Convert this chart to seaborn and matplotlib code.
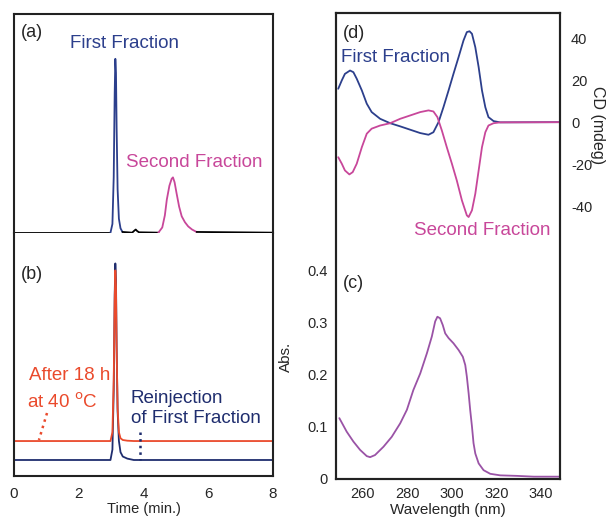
import matplotlib
matplotlib.use("Agg")
import matplotlib.pyplot as plt
import seaborn as sns

sns.set_style("white")
plt.rcParams["font.family"] = ["Liberation Sans", "DejaVu Sans"]
plt.rcParams["axes.unicode_minus"] = False

BLUE = "#2c3f8c"
NAVY = "#1f2d6e"
MAGENTA = "#c8479a"
RED = "#ea4a2c"
PURPLE = "#9a53a6"

# --- (a) HPLC trace (arb. units, first peak = 100)
a_base1_t = [0, 2.98]
a_base1_y = [0, 0]
a_first_t = [2.98, 3.04, 3.08, 3.11, 3.13, 3.15, 3.17, 3.2, 3.24, 3.29, 3.35]
a_first_y = [0, 5, 32, 80, 100, 92, 60, 25, 8, 2.5, 0.4]
a_base2_t = [3.35, 3.65, 3.72, 3.76, 3.80, 3.86, 4.46]
a_base2_y = [0.4, 0, 1.2, 1.8, 1.0, 0.2, 0]
a_second_t = [4.46, 4.58, 4.66, 4.72, 4.8, 4.87, 4.91, 4.96, 5.02, 5.1, 5.18, 5.28, 5.38, 5.5, 5.64]
a_second_y = [0, 3, 10, 19, 27, 31, 31.8, 29, 22.8, 15, 9.4, 6, 3.6, 1.8, 0.4]
a_base3_t = [5.64, 8]
a_base3_y = [0.4, 0]

# --- (b) reinjection / after heating
b_t = [0, 2.98, 3.04, 3.08, 3.11, 3.13, 3.15, 3.17, 3.2, 3.24, 3.29, 3.36, 3.5, 3.7, 8]
b_blue_y = [0, 0, 6, 40, 95, 113, 104, 65, 28, 11, 4.5, 2, 0.8, 0, 0]
b_red_y = [10.9, 10.9, 16, 46, 92, 109, 100, 64, 30, 16, 12.5, 11.5, 11.1, 10.9, 10.9]
red_marker_t = [1.02, 0.77]
red_marker_y = [27, 11.5]
blue_marker_t = [3.9, 3.9]
blue_marker_y = [16, 0]

# --- (c) UV absorption
wl_abs = [249.5, 252.8, 255.8, 258.8, 261.8, 263.3, 265.5, 269.3, 273.0, 276.8,
          279.8, 282.7, 285.8, 288.8, 291.0, 292.5, 293.5, 294.7, 295.9, 297.0,
          298.5, 300.7, 303.0, 304.9, 306.0, 306.7, 307.5, 308.2, 309.0, 309.7,
          310.5, 312.0, 314.2, 317.2, 321.7, 329.2, 336.7, 348.7]
absorb = [0.117, 0.091, 0.072, 0.056, 0.044, 0.042, 0.046, 0.062, 0.081, 0.107,
          0.133, 0.171, 0.203, 0.242, 0.274, 0.303, 0.312, 0.309, 0.296, 0.280,
          0.271, 0.261, 0.248, 0.235, 0.219, 0.197, 0.165, 0.133, 0.101, 0.069,
          0.049, 0.030, 0.017, 0.010, 0.007, 0.006, 0.0045, 0.0045]

# --- (d) CD spectra
wl_first = [249.0, 250.6, 252.0, 254.3, 255.8, 257.3, 259.6, 261.8, 264.0, 267.8,
            272.3, 276.8, 281.3, 285.8, 289.5, 291.7, 294.0, 296.2, 298.5, 300.7,
            303.0, 305.2, 306.7, 307.9, 309.0, 310.5, 312.0, 313.5, 315.0, 316.4,
            318.7, 321.7, 348.7]
cd_first = [15.9, 19.9, 23.0, 24.6, 23.8, 20.7, 15.1, 8.8, 4.8, 1.6,
            -0.5, -2.0, -3.6, -5.2, -6.0, -4.8, 0.0, 7.1, 15.1, 23.0,
            31.0, 38.9, 42.9, 43.3, 42.1, 35.7, 26.2, 15.1, 7.1, 2.4,
            0.5, -0.1, 0.0]
wl_second = [249.0, 250.6, 252.0, 254.0, 255.5, 257.3, 259.6, 261.8, 264.0, 267.8,
             272.3, 276.8, 281.3, 285.8, 289.5, 291.7, 293.5, 295.5, 297.7, 300.0,
             302.2, 304.5, 306.7, 307.5, 309.0, 310.5, 312.0, 313.5, 315.0, 316.4,
             318.7, 321.7, 348.7]
cd_second = [-16.7, -19.8, -23.0, -24.9, -23.8, -19.8, -11.9, -5.5, -3.1, -1.6,
             -0.5, 1.6, 3.2, 4.8, 5.6, 5.1, 2.4, -4.0, -11.9, -19.8,
             -27.8, -37.3, -44.4, -45.2, -42.0, -34.1, -23.0, -11.9, -4.8, -1.6,
             -0.5, -0.1, 0.0]

fig = plt.figure(figsize=(6.11, 5.2), dpi=100)
W, H = 611, 520


def box(x0, y0, x1, y1):
    return [x0 / W, 1 - y1 / H, (x1 - x0) / W, (y1 - y0) / H]


ax_a = fig.add_axes(box(14, 14, 273, 233))
ax_b = fig.add_axes(box(14, 233, 273, 476))
ax_c = fig.add_axes(box(336, 13, 560, 479))
ax_d = ax_c.twinx()

lw = 1.3
fs = 13.5
# (a)
sns.lineplot(x=a_base1_t, y=a_base1_y, ax=ax_a, color="black", lw=lw)
sns.lineplot(x=a_first_t, y=a_first_y, ax=ax_a, color=BLUE, lw=lw)
sns.lineplot(x=a_base2_t, y=a_base2_y, ax=ax_a, color="black", lw=lw)
sns.lineplot(x=a_second_t, y=a_second_y, ax=ax_a, color=MAGENTA, lw=lw)
sns.lineplot(x=a_base3_t, y=a_base3_y, ax=ax_a, color="black", lw=lw)
ax_a.set_xlim(0, 8)
ax_a.set_ylim(-0.2, 125.8)
ax_a.set_xticks([])
ax_a.set_yticks([])
ax_a.spines["bottom"].set_visible(False)
ax_a.text(0.025, 0.915, "(a)", transform=ax_a.transAxes, fontsize=13, va="center")
ax_a.text(3.41, 108.7, "First Fraction", color=BLUE, fontsize=fs, ha="center", va="center")
ax_a.text(5.56, 40.3, "Second Fraction", color=MAGENTA, fontsize=fs, ha="center", va="center")

# (b)
sns.lineplot(x=b_t, y=b_blue_y, ax=ax_b, color=NAVY, lw=lw)
sns.lineplot(x=b_t, y=b_red_y, ax=ax_b, color=RED, lw=lw)
ax_b.plot(red_marker_t, red_marker_y, color=RED, ls=":", lw=1.8)
ax_b.plot(blue_marker_t, blue_marker_y, color=NAVY, ls=":", lw=1.8)
ax_b.set_xlim(0, 8)
ax_b.set_ylim(-9.2, 130.5)
ax_b.set_yticks([])
ax_b.set_xticks([0, 2, 4, 6, 8])
ax_b.tick_params(axis="x", direction="in", length=6, width=1, labelsize=11, pad=8)
ax_b.spines["top"].set_visible(False)
ax_b.set_xlabel("Time (min.)", fontsize=10.5, labelpad=1)
ax_b.text(0.025, 0.83, "(b)", transform=ax_b.transAxes, fontsize=13, va="center")
ax_b.text(0.46, 48.3, "After 18 h", color=RED, fontsize=fs, ha="left", va="center")
ax_b.text(0.4, 33.3, "at 40 $^{\\rm o}$C", color=RED, fontsize=fs, ha="left", va="center")
ax_b.text(3.61, 35.6, "Reinjection", color=NAVY, fontsize=fs, ha="left", va="center")
ax_b.text(3.61, 23.6, "of First Fraction", color=NAVY, fontsize=fs, ha="left", va="center")

for ax in (ax_a, ax_b):
    for s in ax.spines.values():
        s.set_color("#222222")
        s.set_linewidth(1.5)

# (c)
sns.lineplot(x=wl_abs, y=absorb, ax=ax_c, color=PURPLE, lw=lw)
ax_c.set_xlim(248, 348.5)
ax_c.set_ylim(0, 0.896)
ax_c.set_yticks([0, 0.1, 0.2, 0.3, 0.4])
ax_c.set_yticklabels(["0", "0.1", "0.2", "0.3", "0.4"])
ax_c.set_xticks([260, 280, 300, 320, 340])
ax_c.tick_params(axis="both", length=0, labelsize=10.5, pad=6)
ax_c.set_xlabel("Wavelength (nm)", fontsize=11, labelpad=1)
ax_c.set_ylabel("Abs.", fontsize=11)
ax_c.yaxis.set_label_coords(-0.19, 0.262)
ax_c.text(0.03, 0.42, "(c)", transform=ax_c.transAxes, fontsize=13, va="center")

# (d)
sns.lineplot(x=wl_first, y=cd_first, ax=ax_d, color=BLUE, lw=lw)
sns.lineplot(x=wl_second, y=cd_second, ax=ax_d, color=MAGENTA, lw=lw)
ax_d.set_ylim(-170, 52)
ax_d.set_yticks([-40, -20, 0, 20, 40])
ax_d.tick_params(axis="y", length=0, labelsize=10.5, pad=8)
ax_d.set_ylabel("CD (mdeg)", fontsize=11.5, rotation=-90)
ax_d.yaxis.set_label_coords(1.2, 0.76)
ax_d.text(0.03, 0.955, "(d)", transform=ax_d.transAxes, fontsize=13, va="center")
ax_d.text(250.3, 31, "First Fraction", color=BLUE, fontsize=fs, ha="left", va="center")
ax_d.text(313.6, -51.4, "Second Fraction", color=MAGENTA, fontsize=fs, ha="center", va="center")

for ax in (ax_c, ax_d):
    for s in ax.spines.values():
        s.set_color("#222222")
        s.set_linewidth(1.5)

fig.savefig("out.png", dpi=100)
